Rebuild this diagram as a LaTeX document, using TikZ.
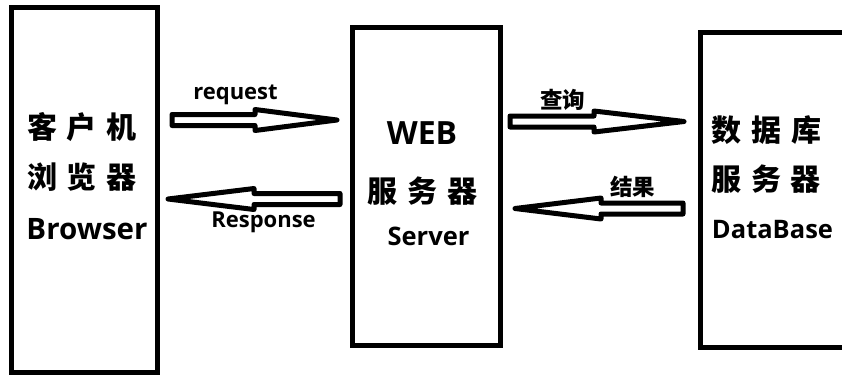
\documentclass[tikz,border=0pt]{standalone}
\usepackage{fontspec}
\setmainfont{Open Sans}
\newfontfamily\cjk{Noto Sans CJK SC}
\usetikzlibrary{calc}

\tikzset{
  tier/.style={draw=black, line width=5pt, fill=white, inner sep=0pt},
  cjkbig/.style={font=\cjk\bfseries\fontsize{30}{32}\selectfont, inner sep=0pt},
  latbig/.style={font=\bfseries\fontsize{29.5}{31}\selectfont, inner sep=0pt},
  latmid/.style={font=\bfseries\fontsize{25.5}{27}\selectfont, inner sep=0pt},
  arrowlab/.style={font=\bfseries\fontsize{22}{24}\selectfont, inner sep=0pt},
  cjksmall/.style={font=\cjk\bfseries\fontsize{22.5}{24}\selectfont, inner sep=0pt},
  barrow/.style={draw=black, fill=white, line width=5pt, line join=round}
}
% hollow block arrow from #1 to #2, head length #3
\newcommand\blockarrow[3]{%
  \draw[barrow] let \p1=(#1), \p2=(#2), \n1={ifthenelse(\x2>\x1,1,-1)} in
    (\x1,\y1+5.5pt) -- (\x2-\n1*#3,\y1+5.5pt) -- (\x2-\n1*#3,\y1+10.5pt)
    -- (\x2,\y1) -- (\x2-\n1*#3,\y1-10.5pt) -- (\x2-\n1*#3,\y1-5.5pt)
    -- (\x1,\y1-5.5pt) -- cycle;}
\newcommand\cjkgap{\hspace{10pt}}

\begin{document}
\begin{tikzpicture}[x=1pt, y=-1pt]
  \useasboundingbox (0,0) rectangle (842,376);
  \fill[white] (0,0) rectangle (842,376);
  \clip (0,0) rectangle (842,376);

  % the three tiers
  \node[tier, minimum width=146pt, minimum height=365pt] (client) at (84.5,190) {};
  \node[tier, minimum width=147.5pt, minimum height=318pt] (server) at (426.25,186.5) {};
  \node[tier, minimum width=200pt, minimum height=315pt] (db) at (800.5,190) {};

  % tier captions
  \node[cjkbig] (c1) at (82,127.5) {客\cjkgap 户\cjkgap 机};
  \node[cjkbig] (c2) at (82,177.5) {浏\cjkgap 览\cjkgap 器};
  \node[latbig] (c3) at (87,229) {Browser};

  \node[latbig, font=\bfseries\fontsize{32}{34}\selectfont] (s1) at (422,133.5) {WEB};
  \node[cjkbig] (s2) at (422.5,191.5) {服\cjkgap 务\cjkgap 器};
  \node[latmid] (s3) at (428.5,236.5) {Server};

  \node[cjkbig] (d1) at (766.5,130.5) {数\cjkgap 据\cjkgap 库};
  \node[cjkbig] (d2) at (766,179.5) {服\cjkgap 务\cjkgap 器};
  \node[latmid] (d3) at (772.5,229.5) {DataBase};

  % arrow end points
  \coordinate (reqA) at (172,120);
  \coordinate (reqB) at (337,120);
  \coordinate (resA) at (340,199);
  \coordinate (resB) at (168,199);
  \coordinate (qA) at (510,121.5);
  \coordinate (qB) at (684,121.5);
  \coordinate (rA) at (683,208.5);
  \coordinate (rB) at (515,208.5);

  \blockarrow{reqA}{reqB}{82pt}
  \blockarrow{resA}{resB}{86pt}
  \blockarrow{qA}{qB}{90pt}
  \blockarrow{rA}{rB}{86pt}

  % arrow labels
  \node[arrowlab] (lreq) at (235.5,95) {request};
  \node[arrowlab] (lres) at (263.5,222.5) {Response};
  \node[cjksmall] (lq) at (562.5,99.5) {查询};
  \node[cjksmall] (lr) at (632.5,186.5) {结果};
\end{tikzpicture}
\end{document}
